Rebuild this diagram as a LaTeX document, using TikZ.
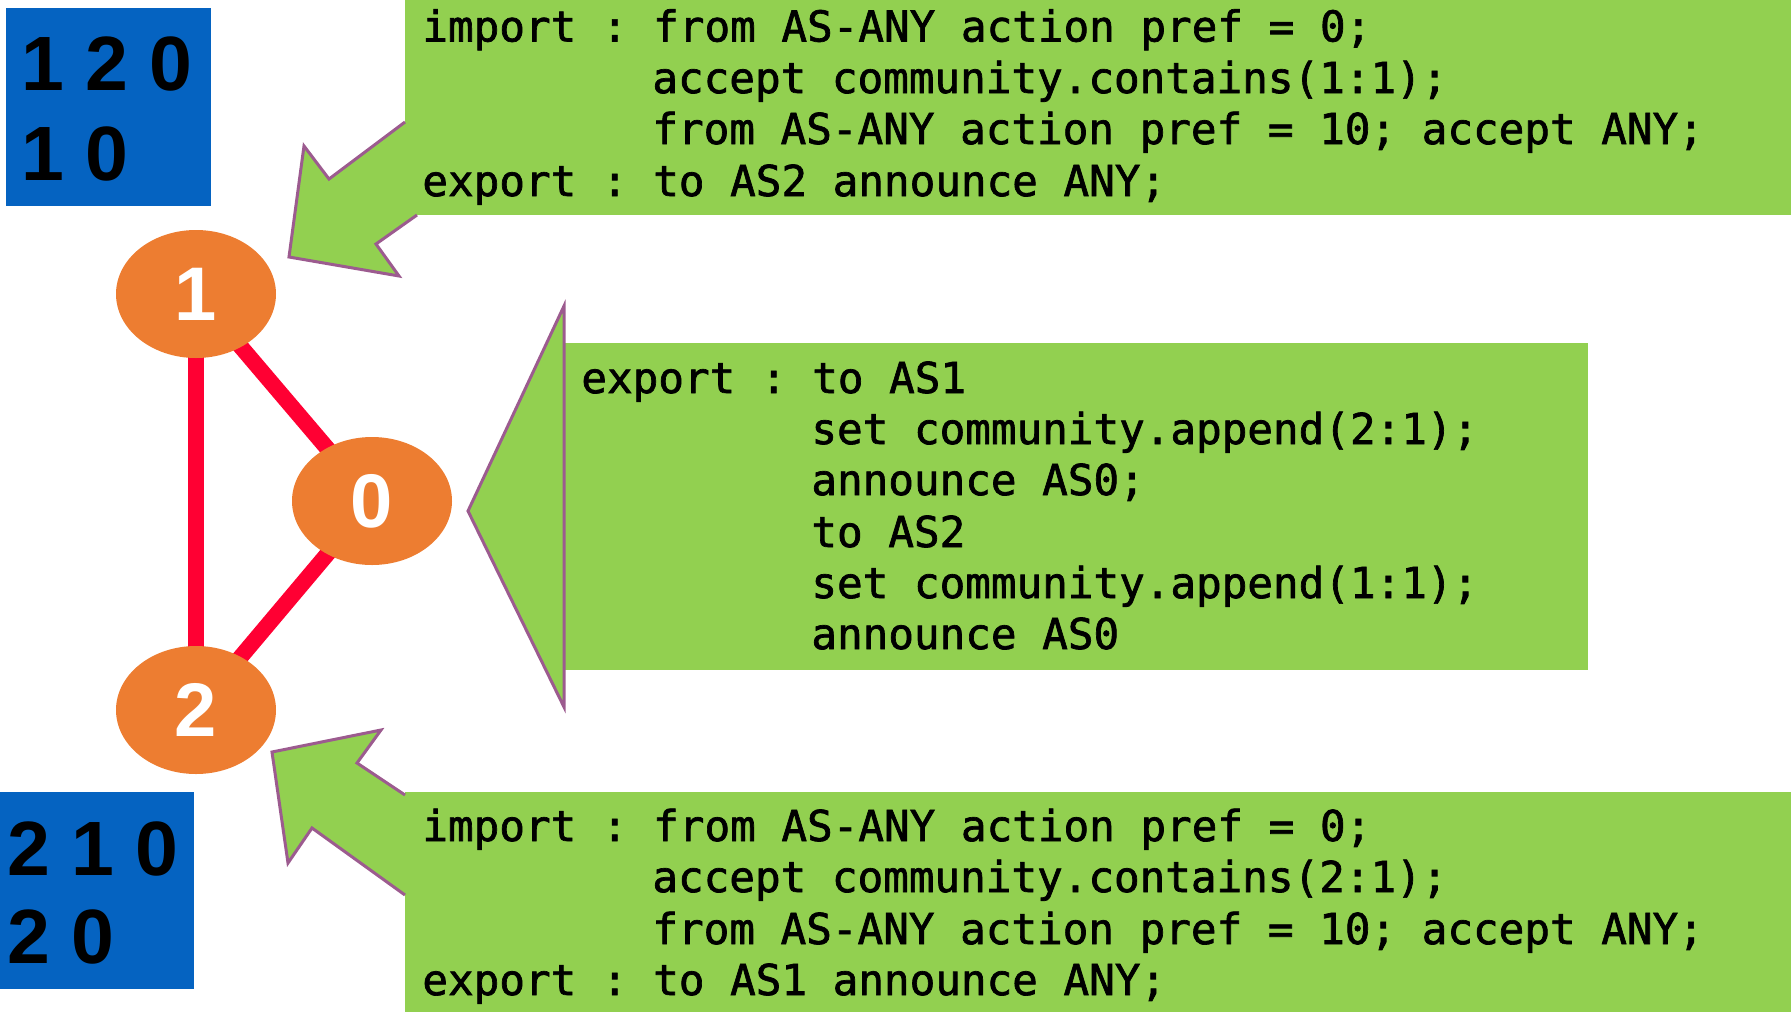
\documentclass[tikz,border=0pt]{standalone}
\usepackage{fontspec}
\setmainfont{Liberation Sans}
\newfontfamily\codefont[FakeBold=1.6]{DejaVu Sans Mono}
\usetikzlibrary{shapes.geometric,backgrounds}

\definecolor{nodeorange}{HTML}{ED7D31}
\definecolor{tableblue}{HTML}{0563C1}
\definecolor{calloutgreen}{HTML}{92D050}
\definecolor{linkred}{HTML}{FF0033}
\definecolor{calloutedge}{HTML}{9C5B8F}

\begin{document}
\begin{tikzpicture}[x=0.5pt,y=-0.5pt,
  asnode/.style={ellipse, fill=nodeorange, minimum width=80pt, minimum height=64pt,
    inner sep=0pt, text=white, font=\fontsize{38}{38}\selectfont\bfseries},
  link/.style={linkred, line width=8pt},
  codeline/.style={anchor=base west, inner sep=0pt,
    font=\codefont\fontsize{21.3}{25.6}\selectfont\frenchspacing},
  tablerow/.style={anchor=base west, inner sep=0pt, font=\fontsize{38.5}{45}\selectfont\bfseries},
  calloutfill/.style={fill=calloutgreen},
  calloutline/.style={draw=calloutedge, line width=1.5pt, line join=miter}
]
\useasboundingbox (0,0) rectangle (1791,1012);

% routing tables
\fill[tableblue] (6,8) rectangle (211,206);
\node[tablerow] (t1a) at (21,90) {1 2 0};
\node[tablerow] (t1b) at (21,180) {1 0};
\fill[tableblue] (0,792) rectangle (194,989);
\node[tablerow] (t2a) at (7,875) {2 1 0};
\node[tablerow] (t2b) at (7,963) {2 0};

% AS graph
\node[asnode] (n1) at (196,294) {1};
\node[asnode] (n0) at (372,501) {0};
\node[asnode] (n2) at (196,710) {2};
\begin{scope}[on background layer]
  \draw[link] (n1.center) -- (n2.center);
  \draw[link] (n1.center) -- (n0.center);
  \draw[link] (n0.center) -- (n2.center);
\end{scope}

% policy of AS1
\fill[calloutfill] (405,0) rectangle (1791,215);
\fill[calloutfill] (405,122) -- (329,179) -- (304,146) -- (289,257) -- (399,276)
  -- (376,244) -- (417,215) -- (405,215) -- cycle;
\draw[calloutline] (405,122) -- (329,179) -- (304,146) -- (289,257) -- (399,276)
  -- (376,244) -- (417,215);
\node[codeline] (p1a) at (422,41.5) {import : from AS-ANY action pref = 0;};
\node[codeline] (p1b) at (652,93) {accept community.contains(1:1);};
\node[codeline] (p1c) at (652,144) {from AS-ANY action pref = 10; accept ANY;};
\node[codeline] (p1d) at (422,196) {export : to AS2 announce ANY;};

% policy of AS0
\fill[calloutfill] (565,343) rectangle (1588,670);
\filldraw[calloutfill, calloutline] (564,306) -- (468,511) -- (564,707) -- cycle;
\node[codeline] (p0a) at (581,393) {export : to AS1};
\node[codeline] (p0b) at (811,444) {set community.append(2:1);};
\node[codeline] (p0c) at (811,495) {announce AS0;};
\node[codeline] (p0d) at (811,547) {to AS2};
\node[codeline] (p0e) at (811,598) {set community.append(1:1);};
\node[codeline] (p0f) at (811,649) {announce AS0};

% policy of AS2
\fill[calloutfill] (405,792) rectangle (1791,1012);
\fill[calloutfill] (405,795) -- (357,763) -- (381,730) -- (272,752) -- (288,863)
  -- (312,828) -- (405,895) -- cycle;
\draw[calloutline] (405,795) -- (357,763) -- (381,730) -- (272,752) -- (288,863)
  -- (312,828) -- (405,895);
\node[codeline] (p2a) at (422,841) {import : from AS-ANY action pref = 0;};
\node[codeline] (p2b) at (652,892) {accept community.contains(2:1);};
\node[codeline] (p2c) at (652,944) {from AS-ANY action pref = 10; accept ANY;};
\node[codeline] (p2d) at (422,995) {export : to AS1 announce ANY;};
\end{tikzpicture}
\end{document}
